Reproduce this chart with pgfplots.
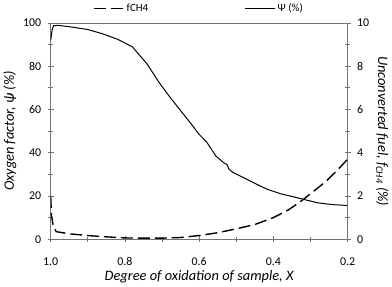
\documentclass[border=0pt]{standalone}
\usepackage{fontspec}
\setmainfont{Carlito}
\usepackage{pgfplots}
\pgfplotsset{compat=1.18}
\definecolor{axgray}{gray}{0.45}
\begin{document}
\begin{tikzpicture}
\pgfplotsset{
  every axis/.style={
    width=298bp, height=217bp, scale only axis,
    x dir=reverse, xmin=0.2, xmax=1.0,
    /pgf/number format/assume math mode=true,
    tick label style={font=\fontsize{12}{14}\selectfont},
    label style={font=\fontsize{14.5}{17}\selectfont\itshape},
    axis line style={axgray, line width=0.8pt},
    every tick/.style={axgray, line width=0.8pt},
    tick align=center,
    major tick length=6bp, minor tick length=5bp,
  }
}
\begin{axis}[
  axis y line*=left, axis x line*=bottom,
  ymin=0, ymax=100,
  ytick={0,20,...,100}, minor ytick={10,30,...,90},
  xtick={0.2,0.4,0.6,0.8,1.0}, minor xtick={0.3,0.5,0.7,0.9},
  xticklabels={0.2,0.4,0.6,0.8,1.0},
  xticklabel style={yshift=-12bp},
  yticklabel style={xshift=-3bp},
  xlabel={Degree of oxidation of sample, X},
  xlabel style={yshift=2bp},
  ylabel={Oxygen factor, ψ (\%)},
  ylabel style={yshift=0bp},
]
\addplot[black, line width=1pt] coordinates {
(1.0,92) (0.996,97) (0.992,98.8) (0.98,98.9) (0.95,98.3) (0.9,97) (0.86,95) (0.82,92.5) (0.78,89) (0.74,81) (0.71,73) (0.68,66) (0.65,59.5) (0.62,53) (0.6,48.5) (0.58,45) (0.555,38.5) (0.535,35.5) (0.525,34.5) (0.52,32.5) (0.51,31) (0.49,29.3) (0.47,27.6) (0.44,25) (0.415,23) (0.38,21) (0.35,19.8) (0.32,18.5) (0.28,16.8) (0.24,16) (0.2,15.6)
};
\end{axis}
\begin{axis}[
  axis y line*=right, axis x line*=top,
  xtick=\empty, minor xtick={},
  ymin=0, ymax=10,
  ytick={0,2,...,10}, minor ytick={1,3,...,9},
  yticklabel style={xshift=3bp},
  ylabel={Unconverted fuel, \textit{f}\textsubscript{\textit{CH4}} (\%)},
  ylabel style={rotate=180},
  legend style={draw=none, fill=none, at={(0.5,1.025)}, anchor=south,
    font=\fontsize{11}{13}\selectfont, legend columns=2,
    /tikz/every even column/.append style={column sep=95bp}},
  legend image code/.code={\draw[#1] (0bp,0bp) -- (30bp,0bp);},
]
\addplot[black, line width=1.4pt, dash pattern=on 12bp off 5bp] coordinates {
(1.0,2.0) (0.998,1.1) (0.993,0.6) (0.985,0.35) (0.95,0.25) (0.9,0.17) (0.86,0.12) (0.8,0.06) (0.75,0.05) (0.7,0.05) (0.65,0.08) (0.6,0.17) (0.55,0.3) (0.5,0.48) (0.45,0.68) (0.4,1.0) (0.36,1.35) (0.33,1.7) (0.3,2.1) (0.26,2.65) (0.23,3.15) (0.2,3.7)
};
\addlegendentry{fCH4}
\addlegendimage{black, line width=1pt}
\addlegendentry{Ψ (\%)}
\end{axis}
\end{tikzpicture}
\end{document}
